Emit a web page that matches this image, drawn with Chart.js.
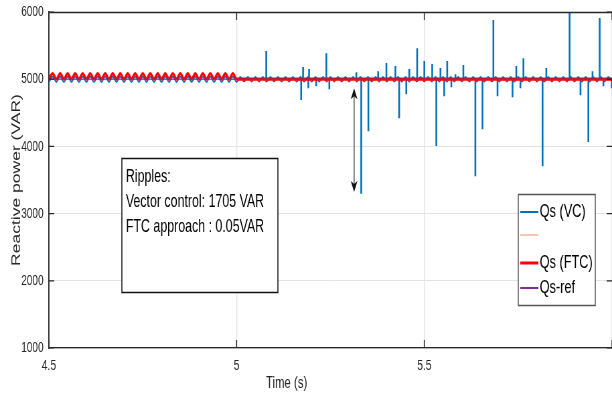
<!DOCTYPE html>
<html>
<head>
<meta charset="utf-8">
<script src="https://cdn.jsdelivr.net/npm/chart.js@4.4.1/dist/chart.umd.min.js"></script>
<style>
  html, body { margin: 0; padding: 0; background: #fff; overflow: hidden; }
  /* the original figure is squeezed sideways, so draw wide and squash */
  #wrap { width: 914px; height: 396px; transform: scaleX(0.6696); transform-origin: 0 0; }
</style>
</head>
<body>
<div id="wrap"><canvas id="c" width="914" height="396"></canvas></div>
<script>
// ---- data ----
const xTickValues = [4.5, 5, 5.5, 6];
const yTickValues = [1000, 2000, 3000, 4000, 5000, 6000];

// Qs (VC) ripple, one sample every 0.01 s from 4.50 s to 6.00 s
const rippleStart = 4.5;
const rippleStep = 0.01;
const vcRipple = [
  4955, 5040, 4955, 5040, 4955, 5040, 4955, 5040, 4955, 5040,
  4955, 5040, 4955, 5040, 4955, 5040, 4955, 5040, 4955, 5040,
  4955, 5040, 4955, 5040, 4955, 5040, 4955, 5040, 4955, 5040,
  4955, 5040, 4955, 5040, 4955, 5040, 4955, 5040, 4955, 5040,
  4955, 5040, 4955, 5040, 4955, 5040, 4955, 5040, 4955, 5040,
  4955, 5035, 4965, 5035, 4965, 5035, 4965, 5035, 4965, 5035,
  4965, 5035, 4965, 5035, 4965, 5035, 4965, 5035, 4965, 5035,
  4965, 5035, 4965, 5035, 4965, 5035, 4965, 5035, 4965, 5035,
  4965, 5035, 4965, 5035, 4965, 5035, 4965, 5035, 4965, 5035,
  4965, 5035, 4965, 5035, 4965, 5035, 4965, 5035, 4965, 5035,
  4965, 5035, 4965, 5035, 4965, 5035, 4965, 5035, 4965, 5035,
  4965, 5035, 4965, 5035, 4965, 5035, 4965, 5035, 4965, 5035,
  4965, 5035, 4965, 5035, 4965, 5035, 4965, 5035, 4965, 5035,
  4965, 5035, 4965, 5035, 4965, 5035, 4965, 5035, 4965, 5035,
  4965, 5035, 4965, 5035, 4965, 5035, 4965, 5035, 4965, 5035,
  4965
];

// Qs (VC) spikes after the fault (time, peak value)
const spikeTimes = [
  5.079, 5.172, 5.177, 5.191, 5.193, 5.212, 5.239, 5.247, 5.319, 5.332,
  5.351, 5.377, 5.399, 5.423, 5.433, 5.452, 5.460, 5.481, 5.500, 5.521,
  5.532, 5.543, 5.553, 5.561, 5.572, 5.583, 5.604, 5.636, 5.655, 5.684,
  5.695, 5.735, 5.745, 5.756, 5.764, 5.815, 5.825, 5.887, 5.916, 5.937,
  5.948, 5.967, 5.977, 5.999
];
const spikeValues = [
  5420, 4690, 5180, 4865, 5150, 4895, 5385, 4850, 5105, 3295,
  4225, 5120, 5240, 5195, 4420, 4775, 5150, 5460, 5270, 5225,
  4005, 5165, 4745, 5270, 4880, 5075, 5210, 3555, 4255, 5880,
  4745, 4730, 5195, 4865, 5310, 3705, 5165, 6050, 4760, 4065,
  5120, 5910, 4895, 4865
];

// Qs (FTC): ripple until 5.00 s, then flat
const ftcRipple = [
  5000, 5085, 5000, 5085, 5000, 5085, 5000, 5085, 5000, 5085,
  5000, 5085, 5000, 5085, 5000, 5085, 5000, 5085, 5000, 5085,
  5000, 5085, 5000, 5085, 5000, 5085, 5000, 5085, 5000, 5085,
  5000, 5085, 5000, 5085, 5000, 5085, 5000, 5085, 5000, 5085,
  5000, 5085, 5000, 5085, 5000, 5085, 5000, 5085, 5000, 5085,
  5000
];
const ftcTailTimes = [5.0, 6.0];
const ftcTailValues = [5000, 5000];

// Qs-ref
const refTimes = [4.5, 6.0];
const refValues = [5000, 5000];

// arrow marking the ripple (time, from, to)
const arrowTime = 5.313;
const arrowFrom = 4866;
const arrowTo = 3320;

// ---- build datasets ----
let vcPoints = vcRipple.map((v, i) => ({ x: rippleStart + i * rippleStep, y: v }));
let spikePoints = [];
spikeTimes.forEach((t, i) => {
  spikePoints.push({ x: t, y: 5000 }, { x: t, y: spikeValues[i] }, { x: t, y: null });
});
let ftcPoints = ftcRipple.map((v, i) => ({ x: rippleStart + i * rippleStep, y: v }));
ftcTailTimes.forEach((t, i) => ftcPoints.push({ x: t, y: ftcTailValues[i] }));
let refPoints = refTimes.map((t, i) => ({ x: t, y: refValues[i] }));

const FONT = "'Liberation Sans', Arial, sans-serif";

// axis labels, box, legend, arrow and the frame
const extras = {
  id: 'extras',
  afterDatasetsDraw(chart) {
    const { ctx, scales: { x, y } } = chart;
    const ax = x.getPixelForValue(arrowTime);
    const y1 = y.getPixelForValue(arrowFrom);
    const y2 = y.getPixelForValue(arrowTo);
    ctx.save();
    ctx.strokeStyle = '#808080';
    ctx.lineWidth = 2;
    ctx.beginPath(); ctx.moveTo(ax, y1 + 8); ctx.lineTo(ax, y2 - 8); ctx.stroke();
    ctx.fillStyle = '#111';
    ctx.beginPath(); ctx.moveTo(ax, y1); ctx.lineTo(ax - 5, y1 + 11); ctx.lineTo(ax, y1 + 8); ctx.lineTo(ax + 5, y1 + 11); ctx.closePath(); ctx.fill();
    ctx.beginPath(); ctx.moveTo(ax, y2); ctx.lineTo(ax - 5, y2 - 11); ctx.lineTo(ax, y2 - 8); ctx.lineTo(ax + 5, y2 - 11); ctx.closePath(); ctx.fill();
    ctx.restore();
  },
  afterDraw(chart) {
    const { ctx, chartArea: a, scales: { x, y } } = chart;
    ctx.save();
    // top border
    ctx.strokeStyle = '#262626';
    ctx.lineWidth = 1.3;
    ctx.beginPath(); ctx.moveTo(a.left, a.top + 0.5); ctx.lineTo(a.right, a.top + 0.5); ctx.stroke();
    // inward ticks
    ctx.lineWidth = 1.5;
    xTickValues.forEach(t => {
      const px = x.getPixelForValue(t);
      ctx.beginPath();
      ctx.moveTo(px, a.bottom); ctx.lineTo(px, a.bottom - 8);
      ctx.moveTo(px, a.top); ctx.lineTo(px, a.top + 8);
      ctx.stroke();
    });
    ctx.lineWidth = 1.2;
    yTickValues.forEach(v => {
      const py = y.getPixelForValue(v);
      ctx.beginPath();
      ctx.moveTo(a.left, py); ctx.lineTo(a.left + 8, py);
      ctx.moveTo(a.right, py); ctx.lineTo(a.right - 8, py);
      ctx.stroke();
    });

    // axis titles
    ctx.fillStyle = '#262626';
    ctx.font = '17px ' + FONT;
    ctx.textAlign = 'center';
    ctx.textBaseline = 'middle';
    ctx.fillText('Time (s)', 428, 383);
    ctx.save();
    ctx.translate(25, 180);
    ctx.rotate(-Math.PI / 2);
    ctx.font = '17.5px ' + FONT;
    ctx.fillText('Reactive power (VAR)', 0, 0);
    ctx.restore();

    // ripple note
    ctx.fillStyle = '#fff';
    ctx.fillRect(182, 158, 233, 134);
    ctx.strokeStyle = '#111';
    ctx.lineWidth = 1.5;
    ctx.strokeRect(182, 158.5, 233, 134);
    ctx.fillStyle = '#000';
    ctx.textAlign = 'left';
    ctx.font = '18.5px ' + FONT;
    ctx.fillText('Ripples:', 188, 177);
    ctx.fillText('Vector control: 1705 VAR', 188, 202);
    ctx.fillText('FTC approach : 0.05VAR', 188, 227);

    // legend
    ctx.fillStyle = '#fff';
    ctx.fillRect(774, 194, 115, 111);
    ctx.strokeStyle = '#555';
    ctx.lineWidth = 1.5;
    ctx.strokeRect(774, 194.5, 115, 111);
    const legend = [
      { text: 'Qs (VC)', color: '#0072BD', w: 2, y: 212 },
      { text: '', color: 'rgba(240,160,120,0.6)', w: 2, y: 235 },
      { text: 'Qs (FTC)', color: '#FF0000', w: 3, y: 263 },
      { text: 'Qs-ref', color: '#7E2F8E', w: 2, y: 288 }
    ];
    ctx.font = '19px ' + FONT;
    legend.forEach(it => {
      ctx.strokeStyle = it.color;
      ctx.lineWidth = it.w;
      ctx.beginPath(); ctx.moveTo(777, it.y); ctx.lineTo(804, it.y); ctx.stroke();
      ctx.fillStyle = '#000';
      ctx.fillText(it.text, 806, it.y);
    });
    ctx.restore();
  }
};

new Chart(document.getElementById('c').getContext('2d'), {
  type: 'line',
  data: {
    datasets: [
      { data: refPoints, borderColor: '#7E2F8E', borderWidth: 1.3, pointRadius: 0, order: 1 },
      { data: ftcPoints, borderColor: '#FF0000', borderWidth: 3.2, pointRadius: 0, cubicInterpolationMode: 'monotone', order: 2 },
      { data: spikePoints, borderColor: '#0072BD', borderWidth: 2.6, pointRadius: 0, spanGaps: false, order: 3 },
      { data: vcPoints, borderColor: '#0072BD', borderWidth: 1.8, pointRadius: 0, cubicInterpolationMode: 'monotone', order: 4 }
    ]
  },
  options: {
    responsive: false,
    devicePixelRatio: 1,
    animation: false,
    events: [],
    layout: { padding: { left: 0, right: 0, top: 12, bottom: 0 } },
    plugins: { legend: { display: false }, tooltip: { enabled: false } },
    scales: {
      x: {
        type: 'linear', min: 4.5, max: 6.0,
        afterBuildTicks: s => { s.ticks = xTickValues.map(v => ({ value: v })); },
        afterFit: s => { s.height = 48; s.paddingLeft = 0; s.paddingRight = 0; },
        ticks: {
          autoSkip: false, maxRotation: 0, padding: 8, color: '#262626',
          font: { family: FONT, size: 15.5 },
          callback: v => (v === 6 ? '' : String(v))
        },
        grid: { color: '#e3e3e3', lineWidth: 1.4, drawTicks: false },
        border: { color: '#262626', width: 1.3 }
      },
      y: {
        min: 1000, max: 6000,
        afterBuildTicks: s => { s.ticks = yTickValues.map(v => ({ value: v })); },
        afterFit: s => { s.width = 73; s.paddingTop = 0; s.paddingBottom = 0; },
        ticks: {
          padding: 8, color: '#262626',
          font: { family: FONT, size: 15 },
          callback: v => String(v)
        },
        grid: { color: '#e3e3e3', lineWidth: 1, drawTicks: false },
        border: { color: '#262626', width: 1.8 }
      }
    }
  },
  plugins: [extras]
});
</script>
</body>
</html>
